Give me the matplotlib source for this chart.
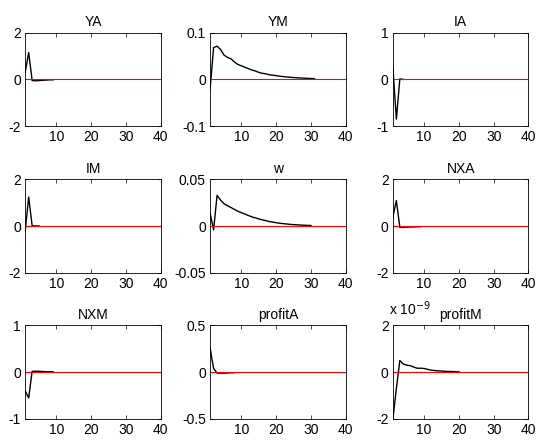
import matplotlib
matplotlib.use("Agg")
import matplotlib.pyplot as plt
import numpy as np

plt.rcParams['font.family'] = ['Liberation Sans', 'DejaVu Sans']

horizon = 40

titles = ['YA', 'YM', 'IA', 'IM', 'w', 'NXA', 'NXM', 'profitA', 'profitM']

YA = [0.3, 1.15, -0.05, -0.06, -0.05, -0.04, -0.03, -0.02, -0.02]
YM = [-0.02, 0.068, 0.071, 0.064, 0.052, 0.047, 0.044, 0.037, 0.032, 0.029,
      0.026, 0.023, 0.020, 0.018, 0.015, 0.013, 0.012, 0.010, 0.009, 0.008,
      0.0068, 0.006, 0.0052, 0.0045, 0.004, 0.0034, 0.003, 0.0026, 0.0022,
      0.0019, 0.0016]
IA = [0.25, -0.85, 0.01, 0.0]
IM = [-0.2, 1.25, 0.02, 0.01, 0.01]
w = [0.014, -0.004, 0.033, 0.028, 0.024, 0.022, 0.020, 0.018, 0.016, 0.0145,
     0.013, 0.0115, 0.010, 0.009, 0.0078, 0.0068, 0.006, 0.005, 0.0044, 0.0038,
     0.0032, 0.0028, 0.0024, 0.002, 0.0017, 0.0015, 0.0013, 0.0011, 0.0009,
     0.0008]
NXA = [0.4, 1.1, -0.05, -0.05, -0.04, -0.03, -0.03, -0.02, -0.02]
NXM = [-0.4, -0.55, 0.02, 0.02, 0.02, 0.015, 0.01, 0.01, 0.01]
profitA = [0.26, 0.04, -0.01, -0.01, -0.01, -0.008, -0.006, -0.005]
profitM_e9 = [-2.0, -0.7, 0.5, 0.35, 0.3, 0.28, 0.22, 0.17, 0.17, 0.16, 0.12,
              0.09, 0.07, 0.06, 0.05, 0.04, 0.03, 0.03, 0.02, 0.02]
profitM = [v * 1e-9 for v in profitM_e9]

series = [YA, YM, IA, IM, w, NXA, NXM, profitA, profitM]
ylims = [2, 0.1, 1, 2, 0.05, 2, 1, 0.5, 2e-9]
ylabels = [['-2', '0', '2'], ['-0.1', '0', '0.1'], ['-1', '0', '1'],
           ['-2', '0', '2'], ['-0.05', '0', '0.05'], ['-2', '0', '2'],
           ['-1', '0', '1'], ['-0.5', '0', '0.5'], ['-2', '0', '2']]

fig = plt.figure(figsize=(5.36, 4.41), dpi=100)

lefts = [0.047, 0.392, 0.733]
width = 0.253
bottoms = [0.714, 0.381, 0.050]
height = 0.212

for i in range(9):
    r, c = divmod(i, 3)
    ax = fig.add_axes([lefts[c], bottoms[r], width, height])
    y = series[i]
    ax.plot(np.arange(1, len(y) + 1), y, color='black', lw=1.0)
    ax.plot([1, horizon], [0, 0], color='red', lw=0.8)
    ax.set_xlim(1, horizon)
    lim = ylims[i]
    ax.set_ylim(-lim, lim)
    ax.set_xticks([10, 20, 30, 40])
    ax.set_yticks([-lim, 0, lim])
    ax.set_yticklabels(ylabels[i])
    ax.tick_params(direction='in', length=3, width=0.5, labelsize=10,
                   top=True, right=True, pad=3)
    for s in ax.spines.values():
        s.set_linewidth(0.6)
    ax.set_title(titles[i], fontsize=10, pad=5)
    if i == 8:
        ax.text(-0.03, 1.08, 'x 10$^{-9}$', transform=ax.transAxes,
                fontsize=10, ha='left', va='bottom')

fig.savefig('out.png', dpi=100)
